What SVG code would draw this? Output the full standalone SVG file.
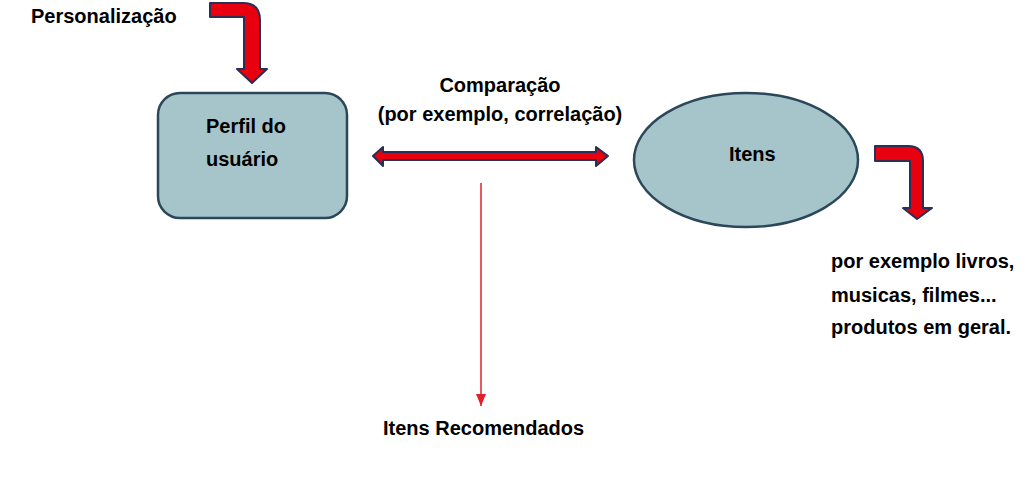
<svg xmlns="http://www.w3.org/2000/svg" width="1033" height="489" viewBox="0 0 1033 489">
<defs>
<style>
text{font-family:"Liberation Sans",Arial,sans-serif;font-weight:bold;font-size:20px;fill:#000}
.arr{fill:#e8000e;stroke:#2a2f55;stroke-width:2;stroke-linejoin:round}
.node{fill:#a6c5cb;stroke:#2c4759;stroke-width:2.5}
</style>
<marker id="ah" markerWidth="12" markerHeight="10" refX="12" refY="5" orient="auto" markerUnits="userSpaceOnUse" viewBox="0 0 12 10">
<path d="M0,0 L12,5 L0,10 Z" fill="#e0202a"/>
</marker>
</defs>
<rect width="1033" height="489" fill="#fff"/>
<text x="31" y="23">Personalização</text>
<g id="perfil">
<rect class="node" x="158" y="93" width="189" height="125" rx="22"/>
<text x="206" y="133">Perfil do</text>
<text x="206" y="166">usuário</text>
</g>
<g id="itens">
<ellipse class="node" cx="746" cy="160" rx="112" ry="67"/>
<text x="729" y="161">Itens</text>
</g>
<g id="labels">
<text x="500" y="92" text-anchor="middle">Comparação</text>
<text x="500" y="121" text-anchor="middle">(por exemplo, correlação)</text>
<text x="831" y="268">por exemplo livros,</text>
<text x="831" y="302">musicas, filmes...</text>
<text x="831" y="334">produtos em geral.</text>
<text x="383" y="435">Itens Recomendados</text>
</g>
<g id="connectors">
<path class="arr" d="M210,3 H243 Q260,3 260,20 V69 H267 L252,83 L237,69 H244 V17 H210 Z"/>
<path class="arr" d="M875,146 H908 Q923,146 923,161 V208 H932 L917,219 L903,208 H910 V161 H875 Z"/>
<path class="arr" d="M373,156 L383,147 V152 H596 V147 L608,156 L596,166 V160 H383 V166 Z"/>
<line x1="481" y1="183" x2="481" y2="406" stroke="#e0202a" stroke-width="1.5" marker-end="url(#ah)"/>
</g>
</svg>
